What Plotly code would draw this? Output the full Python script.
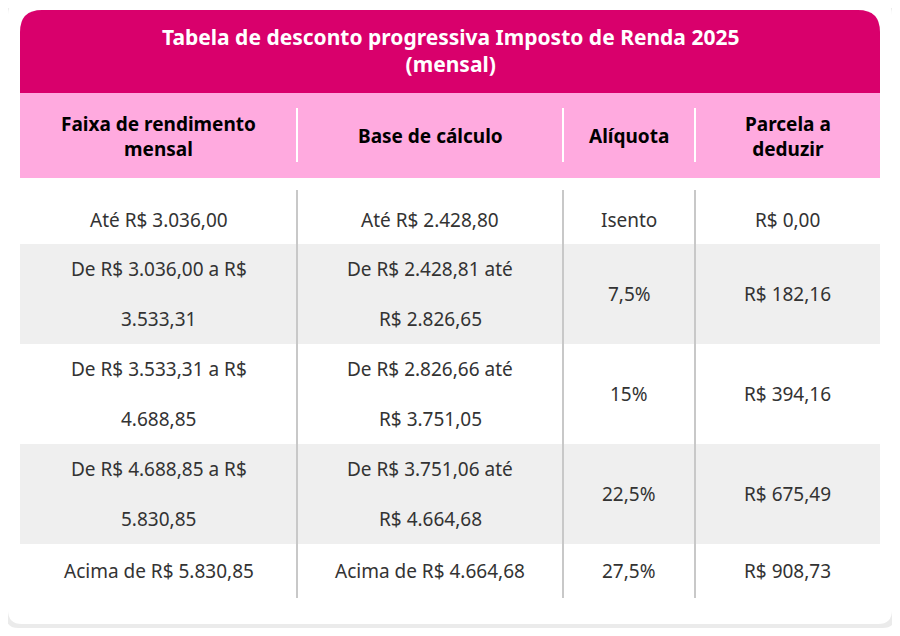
import plotly.graph_objects as go

title = "Tabela de desconto progressiva Imposto de Renda 2025<br>(mensal)"
headers = ["Faixa de rendimento<br>mensal", "Base de cálculo", "Alíquota", "Parcela a<br>deduzir"]
faixa = [["Até R$ 3.036,00"], ["De R$ 3.036,00 a R$", "3.533,31"], ["De R$ 3.533,31 a R$", "4.688,85"],
         ["De R$ 4.688,85 a R$", "5.830,85"], ["Acima de R$ 5.830,85"]]
base = [["Até R$ 2.428,80"], ["De R$ 2.428,81 até", "R$ 2.826,65"], ["De R$ 2.826,66 até", "R$ 3.751,05"],
        ["De R$ 3.751,06 até", "R$ 4.664,68"], ["Acima de R$ 4.664,68"]]
aliquota = [["Isento"], ["7,5%"], ["15%"], ["22,5%"], ["27,5%"]]
parcela = [["R$ 0,00"], ["R$ 182,16"], ["R$ 394,16"], ["R$ 675,49"], ["R$ 908,73"]]

col_edges = [20, 297, 563, 695, 880]
row_edges = [195, 244, 344, 444, 544, 598]
FONT = "Noto Sans, Open Sans, sans-serif"

fig = go.Figure()
shapes, ann = [], []

# card with shadow
shapes.append(dict(type="path", path="M 18,4 L 883,4 Q 895,4 895,16 L 895,616 Q 895,628 883,628 L 18,628 Q 6,628 6,616 L 6,16 Q 6,4 18,4 Z",
                   fillcolor="rgba(0,0,0,0.08)", line_width=0, layer="below"))
shapes.append(dict(type="path", path="M 22,1 L 878,1 Q 892,1 892,15 L 892,610 Q 892,624 878,624 L 22,624 Q 8,624 8,610 L 8,15 Q 8,1 22,1 Z",
                   fillcolor="white", line_width=0, layer="below"))
# title bar
shapes.append(dict(type="path", path="M 42,10 L 858,10 Q 880,10 880,32 L 880,93 L 20,93 L 20,32 Q 20,10 42,10 Z",
                   fillcolor="#D9006C", line_width=0, layer="below"))
ann.append(dict(x=450, y=50, text="<b>" + title + "</b>", showarrow=False,
                font=dict(size=21, color="white", family=FONT), yanchor="middle"))
# header row
shapes.append(dict(type="rect", x0=20, x1=880, y0=93, y1=178, fillcolor="#FFAADF", line_width=0, layer="below"))
for i, h in enumerate(headers):
    cx = (col_edges[i] + col_edges[i + 1]) / 2
    ann.append(dict(x=cx, y=136, text="<b>" + h + "</b>", showarrow=False,
                    font=dict(size=19, color="black", family=FONT)))
for x in col_edges[1:-1]:
    shapes.append(dict(type="line", x0=x, x1=x, y0=108, y1=162, line=dict(color="white", width=2)))

# body rows
cols = [faixa, base, aliquota, parcela]
for r in range(len(faixa)):
    y0, y1 = row_edges[r], row_edges[r + 1]
    if r % 2 == 1:
        shapes.append(dict(type="rect", x0=20, x1=880, y0=y0, y1=y1, fillcolor="#EFEFEF", line_width=0, layer="below"))
    cy = (y0 + y1) / 2
    for c, col in enumerate(cols):
        lines = col[r]
        cx = (col_edges[c] + col_edges[c + 1]) / 2
        for k, t in enumerate(lines):
            ly = cy + (k - (len(lines) - 1) / 2) * 50
            ann.append(dict(x=cx, y=ly, text=t, showarrow=False,
                            font=dict(size=19, color="#333333", family=FONT)))
for x in col_edges[1:-1]:
    shapes.append(dict(type="line", x0=x, x1=x, y0=190, y1=598, line=dict(color="#C8C8C8", width=2)))

# page body has an 8px margin, so shift the view to compensate
fig.update_layout(width=900, height=636, margin=dict(l=0, r=0, t=0, b=0),
                  paper_bgcolor="white", plot_bgcolor="white",
                  xaxis=dict(range=[8, 908], visible=False, fixedrange=True),
                  yaxis=dict(range=[644, 8], visible=False, fixedrange=True),
                  shapes=shapes, annotations=ann, showlegend=False)
fig.write_html("out.html")
